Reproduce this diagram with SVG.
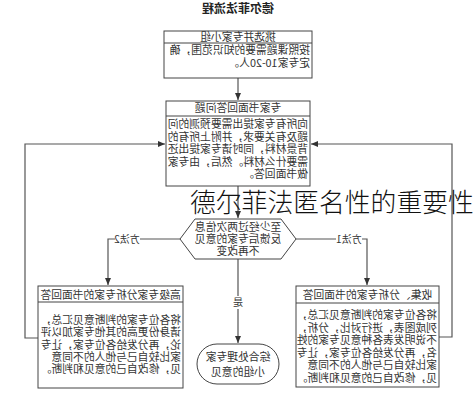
<svg xmlns="http://www.w3.org/2000/svg" width="476" height="400" viewBox="0 0 476 400">
<style>
.box{fill:#fff;stroke:#444;stroke-width:1}
.sep{stroke:#444;stroke-width:1}
.t{font-family:"Noto Sans CJK SC","Noto Sans",sans-serif;font-size:10.8px;fill:#333}
.c{text-anchor:middle}
.lbl{font-family:"Noto Sans CJK SC","Noto Sans",sans-serif;font-size:10px;fill:#333;text-anchor:middle}
.ttl{font-family:"Noto Sans CJK SC","Noto Sans",sans-serif;font-size:12px;font-weight:bold;fill:#222;text-anchor:middle}
.ln{fill:none;stroke:#555;stroke-width:1.2}
.ov{font-family:"Noto Sans CJK SC",sans-serif;font-size:25.8px;font-weight:300;fill:#111}
</style>
<defs>
<marker id="ar" markerUnits="userSpaceOnUse" markerWidth="7" markerHeight="6" refX="7" refY="3" orient="auto">
<path d="M0,0 L7,3 L0,6 z" fill="#333"/>
</marker>
</defs>
<rect width="476" height="400" fill="#fff"/>
<g transform="matrix(-1 0 0 1 476 0)">
<text class="ttl" x="238" y="13">德尔菲法流程</text>
<g id="connectors">
<path class="ln" d="M238 78 V100" marker-end="url(#ar)"/>
<path class="ln" d="M238 186 V218" marker-end="url(#ar)"/>
<path class="ln" d="M238 259 V296 M238 309 V343" marker-end="url(#ar)"/>
<path class="ln" d="M180 239 H140 M114 239 H109 V285" marker-end="url(#ar)"/>
<path class="ln" d="M296 239 H336 M361 239 H368 V285" marker-end="url(#ar)"/>
<path class="ln" d="M37 337 H24 V144 H165" marker-end="url(#ar)"/>
<path class="ln" d="M438 338 H451 V144 H311" marker-end="url(#ar)"/>
<text class="lbl" x="127" y="243">方法1</text>
<text class="lbl" x="349" y="243">方法2</text>
<text class="lbl" x="238" y="306">是</text>
</g>
<g id="node-form">
<rect class="box" x="164" y="31" width="148" height="47"/>
<line class="sep" x1="164" y1="43" x2="312" y2="43"/>
<text class="t c" x="238" y="41">挑选并专家小组</text>
<text class="t" x="166" y="54">按照课题需要的知识范围，确</text>
<text class="t" x="166" y="67">定专家10-20人。</text>
</g>
<g id="node-answer">
<rect class="box" x="166" y="101" width="144" height="85"/>
<line class="sep" x1="166" y1="116" x2="310" y2="116"/>
<text class="t c" x="238" y="112">专家书面回答问题</text>
<text class="t" x="168" y="128">向所有专家提出需要预测的问</text>
<text class="t" x="168" y="140.5">题及有关要求，并附上所有的</text>
<text class="t" x="168" y="153">背景材料，同时请专家提出还</text>
<text class="t" x="168" y="165.5">需要什么材料。然后，由专家</text>
<text class="t" x="168" y="178">做书面回答。</text>
</g>
<g id="node-decision">
<polygon class="box" points="180,239 195,219 281,219 296,239 281,259 195,259"/>
<text class="t c" x="238" y="231">至少经过两次信息</text>
<text class="t c" x="238" y="243">反馈后专家的意见</text>
<text class="t c" x="238" y="255">不再改变</text>
</g>
<g id="node-method1">
<rect class="box" x="37" y="286" width="143" height="101"/>
<line class="sep" x1="37" y1="303" x2="180" y2="303"/>
<text class="t c" x="108.5" y="299">收集、分析专家的书面回答</text>
<text class="t" x="39" y="319">将各位专家的判断意见汇总，</text>
<text class="t" x="39" y="331.5">列成图表，进行对比，分析，</text>
<text class="t" x="39" y="344">不说明发表各种意见专家的姓</text>
<text class="t" x="39" y="356.5">名，再分发给各位专家，让专</text>
<text class="t" x="39" y="369">家比较自己与他人的不同意</text>
<text class="t" x="39" y="381.5">见，修改自己的意见和判断。</text>
</g>
<g id="node-method2">
<rect class="box" x="293" y="286" width="145" height="102"/>
<line class="sep" x1="293" y1="302" x2="438" y2="302"/>
<text class="t c" x="365.5" y="298.5">高级专家分析专家的书面回答</text>
<text class="t" x="295" y="324">将各位专家的判断意见汇总，</text>
<text class="t" x="295" y="336">请身份更高的其他专家加以评</text>
<text class="t" x="295" y="348.5">论，再分发给各位专家，让专</text>
<text class="t" x="295" y="361">家比较自己与他人的不同意</text>
<text class="t" x="295" y="373">见，修改自己的意见和判断。</text>
</g>
<g id="node-result">
<rect class="box" x="197" y="344" width="82" height="40" rx="20" ry="20"/>
<text class="t c" x="238" y="361">综合处理专家</text>
<text class="t c" x="238" y="376">小组的意见</text>
</g>
</g>
<text class="ov" x="190" y="212">德尔菲法匿名性的重要性</text>
</svg>
